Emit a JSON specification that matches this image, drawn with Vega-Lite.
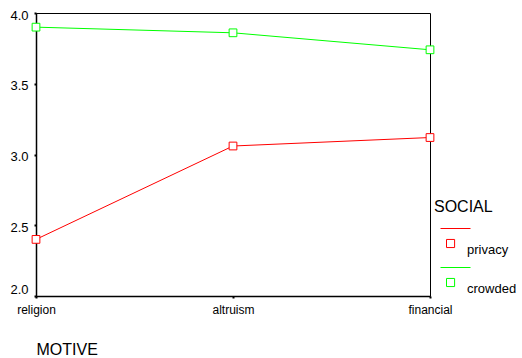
{
  "$schema": "https://vega.github.io/schema/vega-lite/v6.json",
  "width": 394,
  "height": 283,
  "autosize": {"type": "none"},
  "padding": {"left": 36, "top": 13, "right": 92, "bottom": 62},
  "background": "white",
  "config": {
    "font": "Liberation Sans",
    "view": {"stroke": "#000", "strokeWidth": 1},
    "axis": {"grid": false, "domainColor": "#000", "domainWidth": 1.5, "tickColor": "#000", "tickWidth": 2, "tickSize": 2, "labelColor": "#000", "titleColor": "#000"}
  },
  "data": {
    "values": [
      {"motive": "religion", "social": "privacy", "value": 2.40},
      {"motive": "altruism", "social": "privacy", "value": 3.06},
      {"motive": "financial", "social": "privacy", "value": 3.12},
      {"motive": "religion", "social": "crowded", "value": 3.90},
      {"motive": "altruism", "social": "crowded", "value": 3.86},
      {"motive": "financial", "social": "crowded", "value": 3.74}
    ]
  },
  "encoding": {
    "x": {
      "field": "motive", "type": "ordinal", "sort": ["religion", "altruism", "financial"],
      "scale": {"type": "point", "padding": 0},
      "axis": {"title": "MOTIVE", "titleFontSize": 16, "titleFontWeight": "normal", "titleAnchor": "start", "titleAlign": "left", "titlePadding": 26, "labelFontSize": 12, "labelAngle": 0, "labelPadding": 6, "labelFlush": false}
    },
    "y": {
      "field": "value", "type": "quantitative",
      "scale": {"domain": [2, 4], "nice": false, "zero": false},
      "axis": {"title": null, "values": [2, 2.5, 3, 3.5, 4], "format": ".1f", "labelFontSize": 13, "labelPadding": 6,
        "labelOffset": {"condition": {"test": "datum.value == 2", "value": -7}, "value": 2}}
    },
    "color": {
      "field": "social", "type": "nominal",
      "scale": {"domain": ["privacy", "crowded"], "range": ["#ff0000", "#00ff00"]},
      "legend": {
        "title": "SOCIAL", "titleFontSize": 16, "titleFontWeight": "normal", "titleColor": "#000", "titlePadding": 13,
        "orient": "none", "legendX": 398, "legendY": 186, "padding": 0,
        "symbolType": "M-1,-1H1M-0.6,-0.27H-0.06V0.27H-0.6Z",
        "symbolOffset": 6,
        "symbolSize": 900, "symbolStrokeWidth": 1, "symbolFillColor": "transparent",
        "labelFontSize": 13, "labelColor": "#000", "labelBaseline": "top", "labelOffset": -4, "rowPadding": 8
      }
    }
  },
  "layer": [
    {"mark": {"type": "line", "strokeWidth": 1}},
    {"mark": {"type": "point", "shape": "square", "filled": false, "fill": "white", "size": 60, "strokeWidth": 1, "opacity": 1}}
  ]
}
